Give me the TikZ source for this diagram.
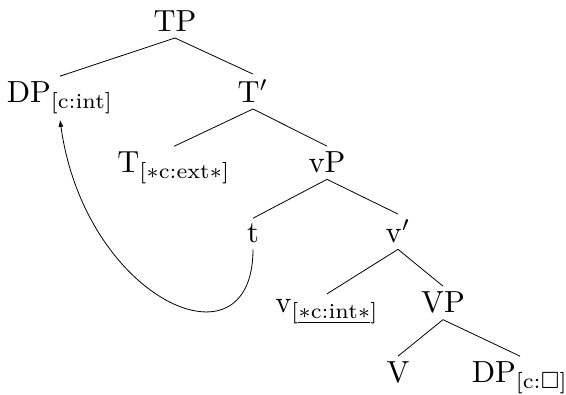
\documentclass[tikz,border=0pt]{standalone}
\usepackage{amsmath,amssymb}
\usetikzlibrary{arrows.meta}
\newcommand\treelab[1]{\scalebox{3.05}{#1}}
\begin{document}
\begin{tikzpicture}[x=1pt,y=-1pt,
  lab/.style={anchor=base,inner sep=6pt,outer sep=0pt,font=\normalsize},
  edge/.style={line width=0.8pt}]
\useasboundingbox (0,0) rectangle (566,395);
\node[lab] (tp) at (175,32) {\treelab{TP}};
\node[lab] (dpint) at (60,103) {\treelab{DP$_{\text{[c:int]}}$}};
\node[lab] (tbar) at (253,103) {\treelab{T$'$}};
\node[lab] (thead) at (174,173) {\treelab{T$_{[\ast\text{c:ext}\ast]}$}};
\node[lab] (vp) at (327,173) {\treelab{vP}};
\node[lab] (trace) at (253,243) {\treelab{t}};
\node[lab] (vbar) at (398,243) {\treelab{v$'$}};
\node[lab] (vhead) at (327,313) {\treelab{v$_{[\underline{\ast\text{c:int}\ast}]}$}};
\node[lab] (bigvp) at (443,313) {\treelab{VP}};
\node[lab] (bigv) at (398,383) {\treelab{V}};
\node[lab] (dpbox) at (520,383) {\treelab{DP$_{[\text{c:}\square]}$}};
\draw[edge] (tp.south) -- (dpint.north);
\draw[edge] (tp.south) -- (tbar.north);
\draw[edge] (tbar.south) -- (thead.north);
\draw[edge] (tbar.south) -- (vp.north);
\draw[edge] (vp.south) -- (trace.north);
\draw[edge] (vp.south) -- (vbar.north);
\draw[edge] (vbar.south) -- (vhead.north);
\draw[edge] (vbar.south) -- (bigvp.north);
\draw[edge] (bigvp.south) -- (bigv.north);
\draw[edge] (bigvp.south) -- (dpbox.north);
\draw[edge,-{Latex[length=7pt,width=5pt]}] (trace.south) .. controls (253,375) and (85,300) .. (dpint.south);
\end{tikzpicture}
\end{document}
